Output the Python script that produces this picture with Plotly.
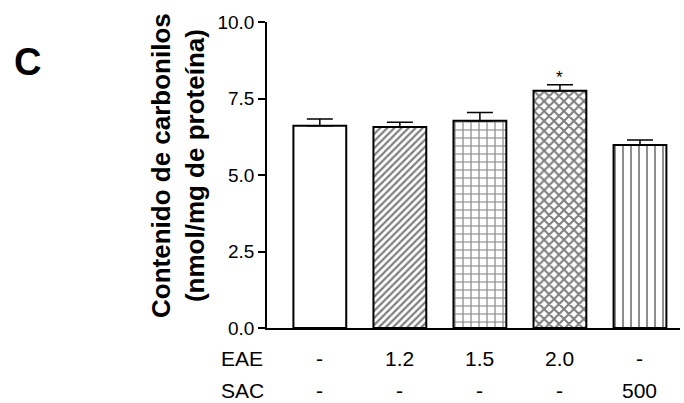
import plotly.graph_objects as go

groups = [0, 1, 2, 3, 4]
values = [6.61, 6.57, 6.77, 7.75, 5.98]
errors = [0.22, 0.15, 0.27, 0.20, 0.16]
eae_labels = ["-", "1.2", "1.5", "2.0", "-"]
sac_labels = ["-", "-", "-", "-", "500"]
patterns = ["", "/", "+", "x", "|"]
pattern_sizes = [8, 5, 8, 7, 8]
pattern_solidity = [0.2, 0.45, 0.26, 0.5, 0.22]
y_ticks = [0, 2.5, 5, 7.5, 10]
y_ticklabels = ["0.0", "2.5", "5.0", "7.5", "10.0"]
signif = [False, False, False, True, False]

FONT = "Liberation Sans, Arial, sans-serif"

fig = go.Figure()
fig.add_trace(go.Bar(
    x=groups, y=values, width=0.66,
    marker=dict(
        color="white",
        line=dict(color="black", width=2),
        pattern=dict(shape=patterns, size=pattern_sizes, solidity=pattern_solidity,
                     fgcolor="black", bgcolor="white", fillmode="overlay"),
    ),
    error_y=dict(type="data", array=errors, symmetric=False, arrayminus=[0]*5,
                 color="black", thickness=1.5, width=13),
    showlegend=False,
))

annotations = []
for g, e, s in zip(groups, eae_labels, sac_labels):
    annotations.append(dict(x=g, y=-0.101, xref="x", yref="paper", text=e, showarrow=False,
                            font=dict(family=FONT, size=21, color="black"), xanchor="center", yanchor="middle"))
    annotations.append(dict(x=g, y=-0.203, xref="x", yref="paper", text=s, showarrow=False,
                            font=dict(family=FONT, size=21, color="black"), xanchor="center", yanchor="middle"))
annotations.append(dict(x=(242 - 267) / 413, y=-0.101, xref="paper", yref="paper", text="EAE", showarrow=False,
                        font=dict(family=FONT, size=21, color="black"), xanchor="center", yanchor="middle"))
annotations.append(dict(x=(242 - 267) / 413, y=-0.203, xref="paper", yref="paper", text="SAC", showarrow=False,
                        font=dict(family=FONT, size=21, color="black"), xanchor="center", yanchor="middle"))
for g, v, e, sg in zip(groups, values, errors, signif):
    if sg:
        annotations.append(dict(x=g, y=v + e, xref="x", yref="y", text="*", showarrow=False,
                                font=dict(family=FONT, size=17, color="black"),
                                xanchor="center", yanchor="bottom", yshift=-4))
annotations.append(dict(x=(178 - 267) / 413, y=(328 - 166) / 306, xref="paper", yref="paper",
                        text="<b>Contenido de carbonilos<br>(nmol/mg de proteína)</b>",
                        textangle=-90, showarrow=False,
                        font=dict(family=FONT, size=26, color="black"),
                        xanchor="center", yanchor="middle"))
annotations.append(dict(x=(27 - 267) / 413, y=(328 - 62) / 306, xref="paper", yref="paper",
                        text="<b>C</b>", showarrow=False,
                        font=dict(family=FONT, size=38, color="black"),
                        xanchor="center", yanchor="middle"))

fig.update_layout(
    width=684, height=403,
    margin=dict(l=267, r=4, t=22, b=75),
    paper_bgcolor="white", plot_bgcolor="white",
    bargap=0.2,
    xaxis=dict(range=[-0.66, 4.5], showticklabels=False, ticks="", showgrid=False,
               zeroline=False, showline=True, linecolor="black", linewidth=2),
    yaxis=dict(range=[0, 10], tickvals=y_ticks, ticktext=y_ticklabels, ticks="outside",
               ticklen=7, tickwidth=1.5, tickcolor="black", showgrid=False, zeroline=False,
               showline=True, linecolor="black", linewidth=1.5,
               tickfont=dict(family=FONT, size=19, color="black")),
    annotations=annotations,
    font=dict(family=FONT, color="black"),
)

fig.write_html("out.html")
